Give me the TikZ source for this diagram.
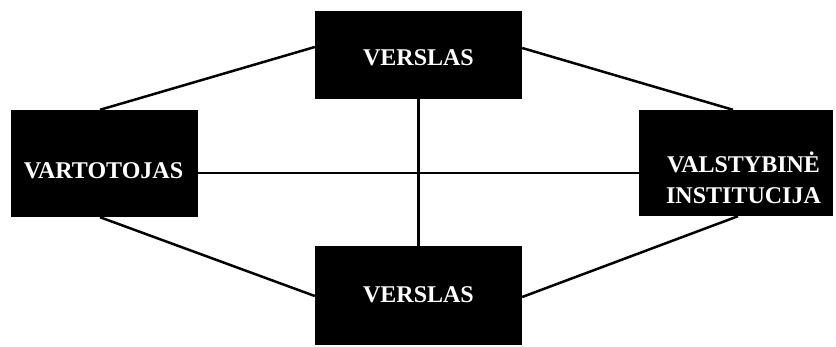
\documentclass[tikz,border=0pt]{standalone}
\usepackage{fontspec}
\setmainfont{Liberation Serif}
\usetikzlibrary{calc}
\begin{document}
\begin{tikzpicture}[x=1pt,y=-1pt,
  box/.style={fill=black, draw=none, inner sep=0pt, minimum width=#1},
  box/.default=207pt,
  lbl/.style={text=white, font=\fontsize{24}{31}\selectfont\bfseries, inner sep=0pt, anchor=base, align=center},
  link/.style={line width=2.5pt}]
  \useasboundingbox (0,0) rectangle (836,346);

  % boxes
  \node[box, minimum height=88pt] (top) at (418.5,55) {};
  \node[box, minimum height=99pt] (bot) at (418.5,295.5) {};
  \node[box=187pt, minimum height=107pt] (left) at (104.5,163.5) {};
  \node[box=194pt, minimum height=106pt] (right) at (736,163) {};

  % labels
  \node[lbl] (toptxt) at (418.5,65) {VERSLAS};
  \node[lbl] (bottxt) at (418.5,302) {VERSLAS};
  \node[lbl] (lefttxt) at (103.5,178) {VARTOTOJAS};
  \node[lbl] (righttxt1) at (743.5,172) {VALSTYBINĖ};
  \node[lbl] (righttxt2) at (743.5,203) {INSTITUCIJA};

  % connectors
  \draw[link] ($(top.west)+(0,-8)$) -- ($(left.north)+(-4.5,0)$);
  \draw[link] ($(top.east)+(0,-7)$) -- ($(right.north)+(-3,0)$);
  \draw[link] ($(left.south)+(-4.5,0)$) -- ($(bot.west)+(0,0.5)$);
  \draw[link] ($(right.south)+(2,0)$) -- ($(bot.east)+(0,1.5)$);
  \draw[link] ($(left.east)+(0,9.5)$) -- ($(right.west)+(0,10)$);
  \draw[link] (top.south) -- (bot.north);
\end{tikzpicture}
\end{document}
